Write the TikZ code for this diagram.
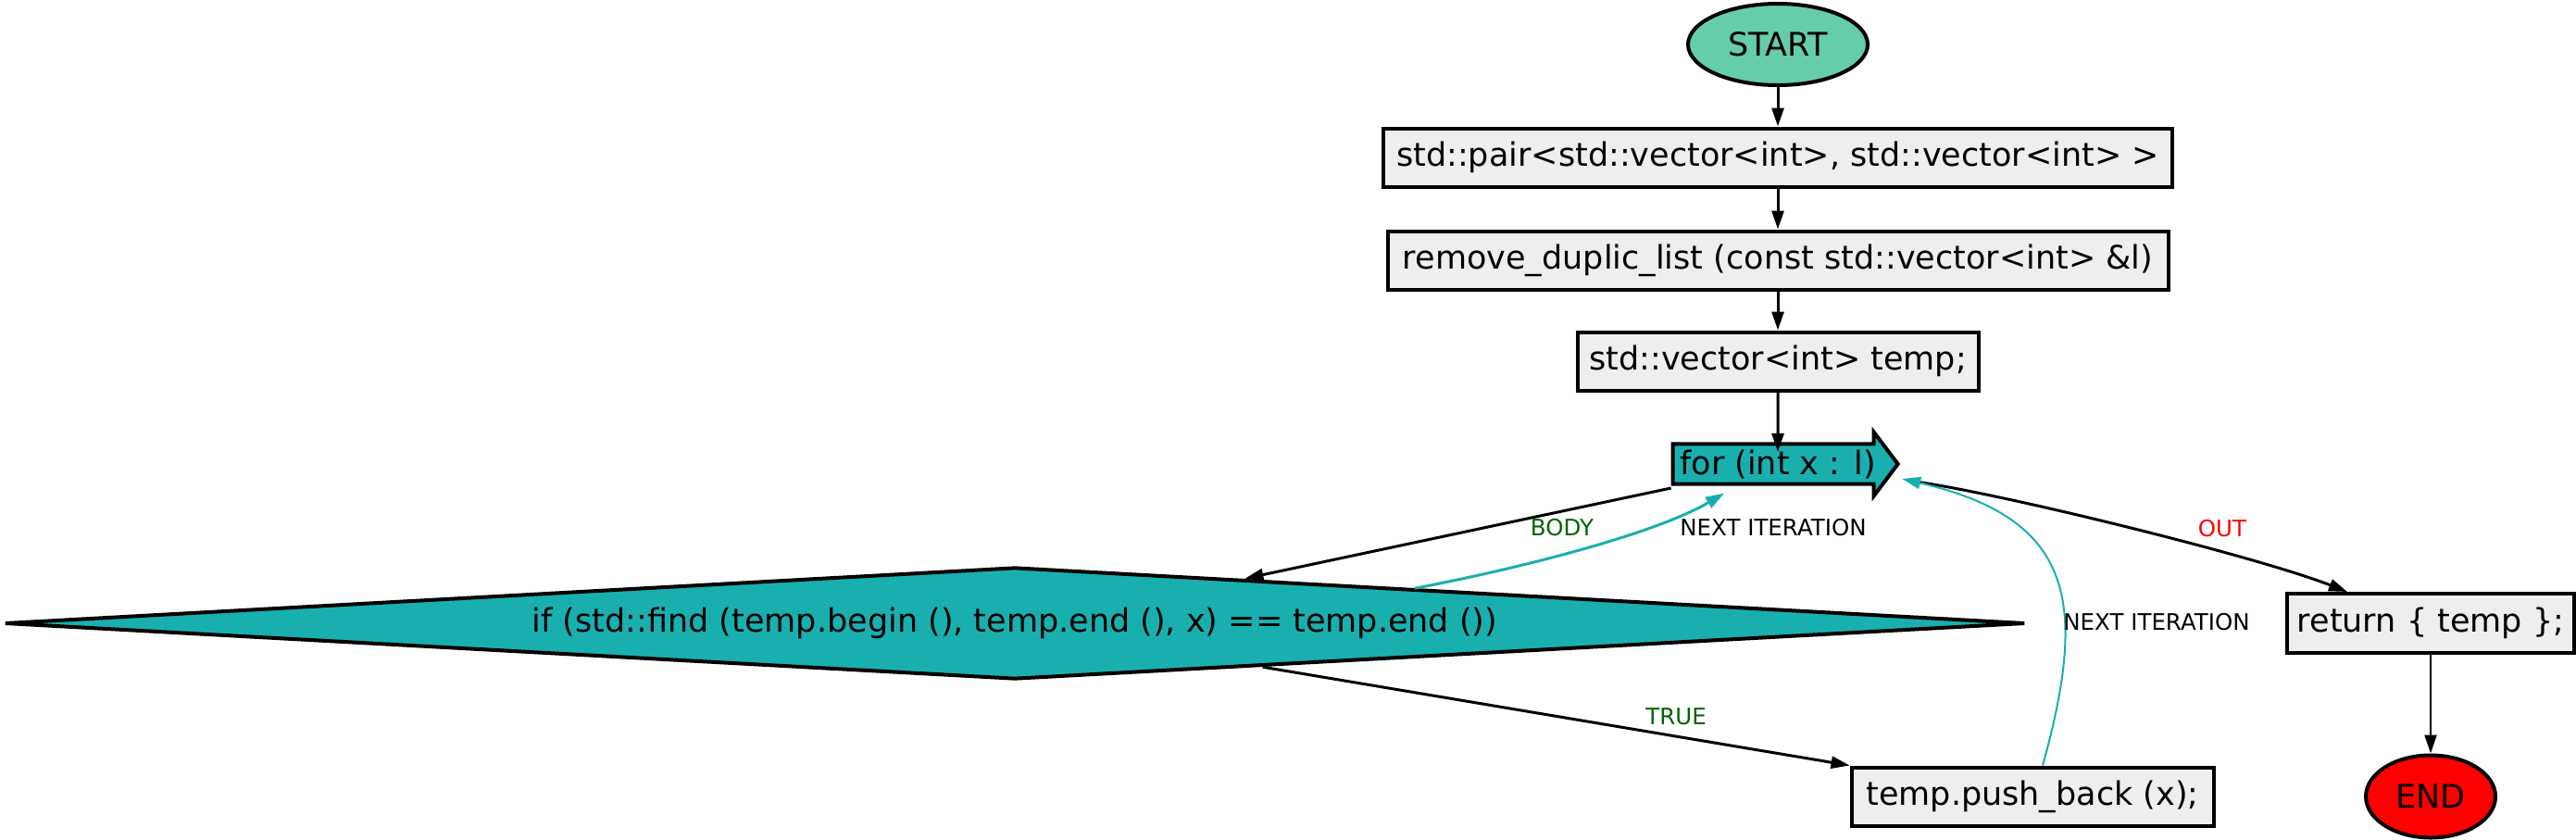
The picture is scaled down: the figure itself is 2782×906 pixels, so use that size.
\documentclass[tikz,border=0pt]{standalone}
\usepackage{fontspec}
\setmainfont{DejaVu Sans}
\usetikzlibrary{shapes.geometric,shapes.arrows,arrows.meta}

\definecolor{startgreen}{RGB}{102,205,170}
\definecolor{loopteal}{RGB}{26,175,175}
\definecolor{stmtgray}{RGB}{238,238,238}
\definecolor{lbldarkgreen}{RGB}{0,100,0}

\tikzset{every picture/.style={line width=0.75pt}}
\tikzset{
	stmt/.style={draw, line width=2pt, fill=stmtgray, inner sep=0pt, font=\fontsize{17.5}{21}\selectfont},
	terminal/.style={ellipse, draw, line width=2pt, inner sep=0pt, font=\fontsize{17.5}{21}\selectfont},
	flowedge/.style={draw, line width=1.5pt, -{Triangle[length=10pt,width=6.5pt]}},
	iteredge/.style={flowedge, color=loopteal},
	edgelabel/.style={inner sep=0pt, font=\fontsize{12.25}{14}\selectfont},
}

\begin{document}
\begin{tikzpicture}[x=0.5pt,y=0.5pt,yscale=-1,xscale=1]
	%set diagram left start at 0, and has height of 906
	\useasboundingbox (0,0) rectangle (2782,906);
	
	%Shape: Ellipse [id:start] 
	\node[terminal, fill=startgreen, minimum width=97pt, minimum height=44pt] (start) at (1920,48) {START};
	%Shape: Rectangle [id:pair] 
	\node[stmt, minimum width=426pt, minimum height=31.5pt] (pair) at (1920,170) {std::pair<std::vector<int>, std::vector<int> >};
	%Shape: Rectangle [id:ducl] 
	\node[stmt, minimum width=421.5pt, minimum height=31.5pt] (ducl) at (1920,281) {remove\_duplic\_list (const std::vector<int> \&l)};
	%Shape: Rectangle [id:decl] 
	\node[stmt, minimum width=216.5pt, minimum height=31.5pt] (decl) at (1920,390) {std::vector<int> temp;};
	%Shape: Right Arrow [id:forloop] 
	\node[stmt, single arrow, fill=loopteal, single arrow head extend=5.25pt, single arrow tip angle=106, minimum width=34.5pt, minimum height=121.5pt] (forloop) at (1920,501) {for (int x : l)};
	%Shape: Diamond [id:cond] 
	\node[stmt, diamond, fill=loopteal, aspect=18, minimum width=1091pt, minimum height=60.5pt] (cond) at (1096,673) {if (std::find (temp.begin (), temp.end (), x) == temp.end ())};
	%Shape: Rectangle [id:push] 
	\node[stmt, minimum width=195.5pt, minimum height=31.5pt] (push) at (2195,860) {temp.push\_back (x);};
	%Shape: Rectangle [id:ret] 
	\node[stmt, minimum width=155pt, minimum height=32pt] (ret) at (2625,673) {return \{ temp \};};
	%Shape: Ellipse [id:finish] 
	\node[terminal, fill=red, minimum width=70pt, minimum height=44.5pt] (finish) at (2625,860) {END};
	
	%Straight Lines [id:start-pair] 
	\draw[flowedge] (start) -- (pair);
	%Straight Lines [id:pair-ducl] 
	\draw[flowedge] (pair) -- (ducl);
	%Straight Lines [id:ducl-decl] 
	\draw[flowedge] (ducl) -- (decl);
	%Straight Lines [id:decl-forloop] 
	\draw[flowedge, shorten >=-5.25pt] (decl) -- (forloop);
	%Straight Lines [id:forloop-cond] 
	\draw[flowedge] ([yshift=13pt]forloop.west) -- (cond.11.4);
	%Straight Lines [id:cond-push] 
	\draw[flowedge] (cond.-10.1) -- (push.north west);
	%Straight Lines [id:ret-finish] 
	\draw[flowedge, line width=1.25pt] (ret) -- (finish);
	%Curve Lines [id:cond-forloop] 
	\draw[iteredge] (cond.5.3) .. controls (1650,612) and (1790,575) .. ([xshift=-29pt,yshift=4pt]forloop.south);
	%Curve Lines [id:forloop-ret] 
	\draw[flowedge] ([xshift=8pt,yshift=9.5pt]forloop.tip) .. controls (2157,532) and (2435,600) .. ([xshift=-45pt]ret.north);
	%Curve Lines [id:push-forloop] 
	\draw[iteredge, line width=1pt] ([xshift=5.5pt]push.north) .. controls (2255,650) and (2240,560) .. ([xshift=1pt,yshift=8pt]forloop.tip);
	
	% Text Node
	\node[edgelabel, text=lbldarkgreen] (lblbody) at (1687,570) {BODY};
	% Text Node
	\node[edgelabel] (lblnext) at (1915,570) {NEXT ITERATION};
	% Text Node
	\node[edgelabel, text=red] (lblout) at (2400,571) {OUT};
	% Text Node
	\node[edgelabel, text=lbldarkgreen] (lbltrue) at (1810,774) {TRUE};
	% Text Node
	\node[edgelabel] (lblnextb) at (2329,672) {NEXT ITERATION};
	
\end{tikzpicture}
\end{document}
